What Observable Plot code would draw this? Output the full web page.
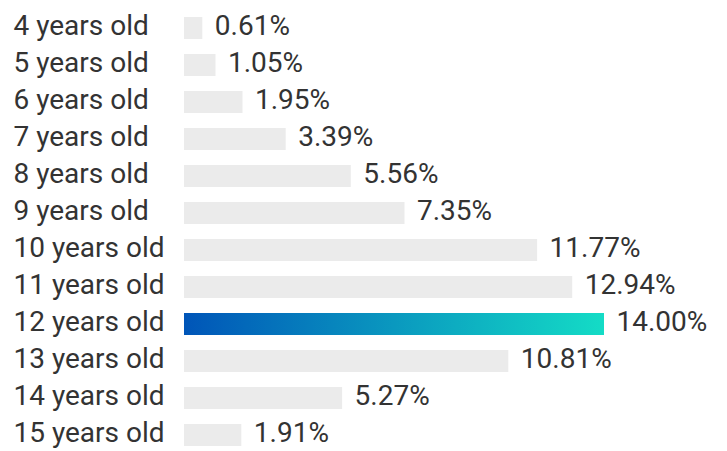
<!DOCTYPE html>
<html>
<head>
<meta charset="utf-8">
<script src="https://cdn.jsdelivr.net/npm/d3@7"></script>
<script src="https://cdn.jsdelivr.net/npm/@observablehq/plot@0.6"></script>
<style>
  html, body { margin: 0; padding: 0; background: #fff; }
  #chart svg { display: block; }
</style>
</head>
<body>
<div id="chart"></div>
<script>
const ages = ["4 years old","5 years old","6 years old","7 years old","8 years old","9 years old","10 years old","11 years old","12 years old","13 years old","14 years old","15 years old"];
const shares = [0.61, 1.05, 1.95, 3.39, 5.56, 7.35, 11.77, 12.94, 14.00, 10.81, 5.27, 1.91];
const highlight = "12 years old";

const data = ages.map((a, i) => ({age: a, value: shares[i]}));

const svg = Plot.plot({
  width: 727,
  height: 451,
  marginLeft: 184,
  marginRight: 123,
  marginTop: 14,
  marginBottom: 3,
  style: {fontFamily: "Roboto, sans-serif", fontSize: "28px", background: "#fff"},
  x: {domain: [0, 14], axis: null},
  y: {domain: ages, axis: null, paddingInner: 0.41, paddingOuter: 0},
  marks: [
    Plot.barX(data, {
      y: "age",
      x: "value",
      fill: d => d.age === highlight ? "url(#barGrad)" : "#ebebeb"
    }),
    Plot.text(data, {
      y: "age",
      text: "age",
      frameAnchor: "left",
      textAnchor: "start",
      dx: -171,
      dy: -2,
      fill: "#333",
      fontSize: 28
    }),
    Plot.text(data, {
      y: "age",
      x: "value",
      text: d => d.value.toFixed(2) + "%",
      textAnchor: "start",
      dx: 12,
      dy: -2,
      fill: "#333",
      fontSize: 28
    })
  ]
});

const ns = "http://www.w3.org/2000/svg";
const defs = document.createElementNS(ns, "defs");
const grad = document.createElementNS(ns, "linearGradient");
grad.setAttribute("id", "barGrad");
grad.setAttribute("x1", "0"); grad.setAttribute("x2", "1");
grad.setAttribute("y1", "0"); grad.setAttribute("y2", "0");
[["0%", "#0055b8"], ["100%", "#14dcc6"]].forEach(([o, c]) => {
  const s = document.createElementNS(ns, "stop");
  s.setAttribute("offset", o);
  s.setAttribute("stop-color", c);
  grad.appendChild(s);
});
defs.appendChild(grad);
svg.insertBefore(defs, svg.firstChild);

document.getElementById("chart").appendChild(svg);
</script>
</body>
</html>
